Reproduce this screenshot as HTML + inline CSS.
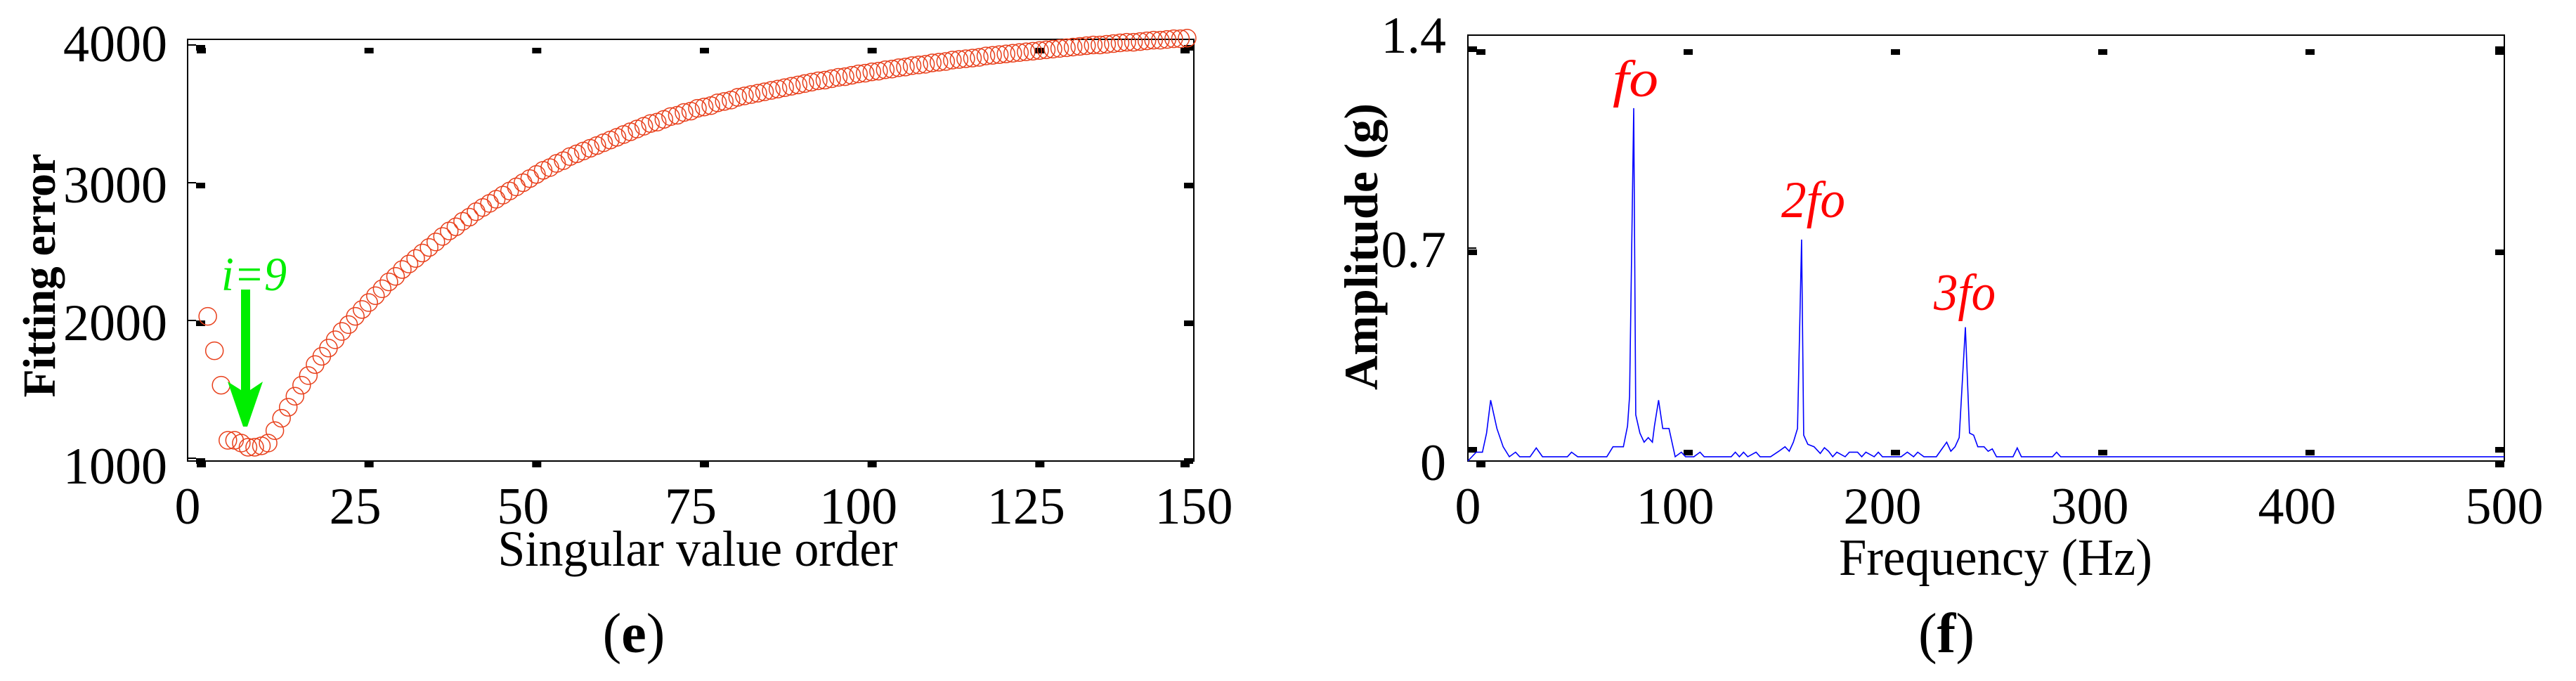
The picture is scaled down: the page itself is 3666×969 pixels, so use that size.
<!DOCTYPE html>
<html><head><meta charset="utf-8"><style>
html,body{margin:0;padding:0;background:#fff;}
svg{display:block;}
svg text{font-family:"Liberation Serif","Times New Roman",serif;}
</style></head><body>
<svg id="fig" width="3666" height="969" viewBox="0 0 3666 969" xmlns="http://www.w3.org/2000/svg" font-family="Liberation Serif, serif">
<g id="left" font-family="Liberation Serif, serif"></g>
<g id="right" font-family="Liberation Serif, serif"></g>
</svg>
<script>
// ---- chart (e) data ----
const errValues = [2030,1780,1530,1130,1130,1110,1080,1080,1090,1110,1200,1290,1370,1450,1530,1600,1680,1740,1800,1860,1920,1970,2030,2080,2130,2180,2230,2280,2320,2370,2410,2450,2490,2530,2570,2610,2650,2680,2720,2750,2790,2820,2850,2880,2910,2940,2970,3000,3030,3060,3090,3110,3140,3160,3190,3210,3230,3250,3270,3290,3310,3330,3350,3370,3390,3410,3430,3440,3460,3480,3490,3510,3520,3540,3550,3560,3580,3590,3600,3620,3630,3640,3650,3660,3670,3680,3690,3700,3710,3720,3730,3740,3745,3755,3765,3770,3780,3790,3795,3805,3810,3820,3825,3835,3840,3850,3855,3860,3870,3875,3880,3890,3895,3900,3905,3910,3920,3925,3930,3935,3940,3945,3950,3955,3960,3965,3970,3975,3980,3985,3990,3995,4000,4000,4005,4010,4015,4020,4020,4025,4030,4035,4035,4040,4045,4045,4050];
const errOrder = [];
for (let k = 0; k < errValues.length; k++) errOrder.push(k + 3);
const errXTicks = [0,25,50,75,100,125,150];
const errYTicks = [1000,2000,3000,4000];
// ---- chart (f) data ----
const freqHz = [0,4,7,9,11,14,17,20,23,25,30,33,36,48,50,53,67,70,75,77,78,80,81,83,85,87,89,90,92,94,97,100,103,105,109,112,114,127,129,131,133,135,139,141,146,150,153,155,157,159,161,162,164,167,170,172,174,176,178,182,184,188,190,192,196,198,200,209,212,215,217,220,226,229,231,233,235,237,240,242,244,246,249,251,253,255,263,265,267,282,284,286,500];
const ampG = [0,0.029,0.029,0.092,0.20,0.107,0.047,0.014,0.029,0.014,0.014,0.043,0.014,0.014,0.029,0.014,0.014,0.047,0.047,0.115,0.213,1.16,0.152,0.092,0.062,0.077,0.062,0.115,0.20,0.107,0.107,0.014,0.029,0.014,0.014,0.029,0.014,0.014,0.029,0.014,0.029,0.014,0.029,0.014,0.014,0.032,0.047,0.032,0.062,0.107,0.728,0.085,0.055,0.047,0.025,0.044,0.032,0.014,0.029,0.014,0.029,0.029,0.014,0.029,0.014,0.029,0.014,0.014,0.029,0.014,0.029,0.014,0.014,0.043,0.062,0.032,0.047,0.077,0.44,0.092,0.085,0.047,0.047,0.032,0.040,0.014,0.014,0.043,0.014,0.014,0.029,0.014,0.014];
const ampXTicks = [0,100,200,300,400,500];
const ampYTicks = [0,0.7,1.4];
const ampYLabels = ["0","0.7","1.4"];

const NS = "http://www.w3.org/2000/svg";
const SERIF = "Liberation Serif, serif";
function mk(parent, tag, attrs, text){
  const e = document.createElementNS(NS, tag);
  for (const k in attrs) e.setAttribute(k, attrs[k]);
  if (tag === 'text') e.setAttribute('font-family', SERIF);
  if (text !== undefined) e.textContent = text;
  parent.appendChild(e); return e;
}
const L = {x0:267, x1:1699, y0:656, y1:56};
const ex = v => 267 + v * (1699-267)/150;
const ey = v => 652 - (v-1000) * 0.196;
const R = {x0:2089, x1:3564, y0:656, y1:50};
const fx = v => 2089 + v * (3564-2089)/500;
const fy = v => 656 - v * (656-50)/1.4;

const gl = document.getElementById('left');
const gr = document.getElementById('right');

// ---- left chart ----
let box = mk(gl,'rect',{x:L.x0,y:L.y1,width:L.x1-L.x0,height:L.y0-L.y1,fill:'none',stroke:'#000','stroke-width':2});


errYTicks.forEach(v=>{
  const y = ey(v);
  let t = mk(gl,'line',{x1:L.x0,y1:y,x2:L.x0+12,y2:y,stroke:'#000','stroke-width':2});
   
  let s = mk(gl,'rect',{x:L.x0+12,y:y,width:13,height:8,fill:'#000'});
   
  let s2 = mk(gl,'rect',{x:L.x1-14,y:y,width:13,height:8,fill:'#000'});
   
  let lb = mk(gl,'text',{x:238,y:(v===1000?664:(v===4000?63:y+4))+24,'font-size':74,'text-anchor':'end'},String(v));
   
});
errXTicks.forEach(v=>{
  const x = ex(v);
  let s = mk(gl,'rect',{x:x+(v===150?-19:13),y:L.y1+12,width:13,height:8,fill:'#000'});
   
  let s2 = mk(gl,'rect',{x:x+(v===150?-19:13),y:L.y0+1,width:13,height:8,fill:'#000'});
   
  let lb = mk(gl,'text',{x:x,y:745,'font-size':74,'text-anchor':'middle'},String(v));
   
});
errValues.forEach((v,i)=>{
  let c = mk(gl,'circle',{cx:ex(errOrder[i]),cy:ey(v),r:12.5,fill:'none',stroke:'#e8401c','stroke-width':1.5});
   
});
let yl = mk(gl,'text',{x:0,y:0,'font-size':66,'font-weight':'bold','text-anchor':'middle',transform:'translate(78,392) rotate(-90)',textLength:347,lengthAdjust:'spacing'},'Fitting error');
 
let xl = mk(gl,'text',{x:993,y:805,'font-size':72,'text-anchor':'middle',textLength:569,lengthAdjust:'spacingAndGlyphs'},'Singular value order');
 
let cap = mk(gl,'text',{x:902,y:928,'font-size':80,'text-anchor':'middle'},'');
 
mk(cap,'tspan',{},'(');
mk(cap,'tspan',{'font-weight':'bold'},'e');
mk(cap,'tspan',{},')');
let arr = mk(gl,'path',{d:'M343 412 H356 V555 L374 543 L352 607 L346 607 L324 543 L343 555 Z',fill:'#00ee00'});
 
let at = mk(gl,'text',{x:315,y:413,'font-size':68,'font-style':'italic',fill:'#00ee00',textLength:93,lengthAdjust:'spacingAndGlyphs'},'i=9');
 

// ---- right chart ----
let box2 = mk(gr,'rect',{x:R.x0,y:R.y1,width:R.x1-R.x0,height:R.y0-R.y1,fill:'none',stroke:'#000','stroke-width':2});


ampYTicks.forEach((v,i)=>{
  const y = fy(v);
  let t = mk(gr,'line',{x1:R.x0,y1:y,x2:R.x0+12,y2:y,stroke:'#000','stroke-width':2});
   
  const sy = v===0 ? y-20 : (v===1.4? y+16 : y+2);
  let s = mk(gr,'rect',{x:R.x0,y:sy,width:13,height:8,fill:'#000'});
   
  let s2 = mk(gr,'rect',{x:R.x1-13,y:sy,width:13,height:8,fill:'#000'});
   
  const cy = v===0 ? 659 : (v===1.4 ? 51 : 356);
  let lb = mk(gr,'text',{x:2058,y:cy+24,'font-size':74,'text-anchor':'end'},ampYLabels[i]);
   
});
ampXTicks.forEach(v=>{
  const x = fx(v);
  let s = mk(gr,'rect',{x:x+(v===500?-13:12),y:R.y1+20,width:13,height:8,fill:'#000'});
   
  let s2 = mk(gr,'rect',{x:x+(v===500?-13:12),y:v===0||v===500?R.y0+1:R.y0-16,width:13,height:8,fill:'#000'});
   
  let lb = mk(gr,'text',{x:x,y:745,'font-size':74,'text-anchor':'middle'},String(v));
   
});
let pts = freqHz.map((f,i)=>fx(f).toFixed(1)+','+fy(ampG[i]).toFixed(1)).join(' ');
let line = mk(gr,'polyline',{points:pts,fill:'none',stroke:'#0000ff','stroke-width':1.6});
 
let yl2 = mk(gr,'text',{x:0,y:0,'font-size':68,'font-weight':'bold','text-anchor':'middle',transform:'translate(1960,351) rotate(-90)',textLength:408,lengthAdjust:'spacing'},'Amplitude (g)');
 
let xl2 = mk(gr,'text',{x:2840,y:818,'font-size':74,'text-anchor':'middle',textLength:446,lengthAdjust:'spacingAndGlyphs'},'Frequency (Hz)');
 
let cap2 = mk(gr,'text',{x:2770,y:928,'font-size':80,'text-anchor':'middle'},'');
 
mk(cap2,'tspan',{},'(');
mk(cap2,'tspan',{'font-weight':'bold'},'f');
mk(cap2,'tspan',{},')');
[["fo",2295,137,65],["2fo",2535,309,91],["3fo",2752,441,88]].forEach(a=>{
  let t = mk(gr,'text',{x:a[1],y:a[2],'font-size':74,'font-style':'italic',fill:'#ff0000',textLength:a[3],lengthAdjust:'spacingAndGlyphs'},a[0]);
  
  
});
</script>
</body></html>
